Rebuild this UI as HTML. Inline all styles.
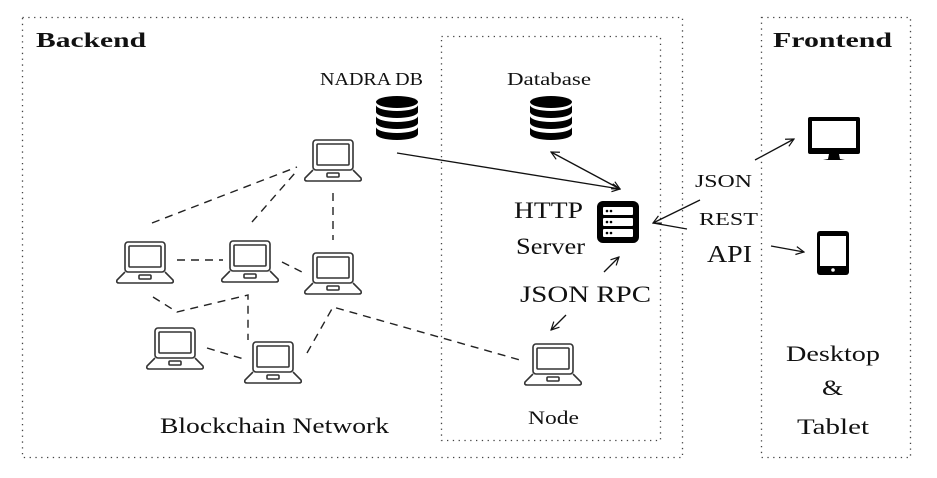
<!DOCTYPE html>
<html><head><meta charset="utf-8"><style>
html,body{margin:0;padding:0;background:#fff;}
svg{display:block;}
text{font-family:"Liberation Serif",serif;fill:#111;}
</style></head><body>
<svg width="937" height="478" viewBox="0 0 937 478" xmlns="http://www.w3.org/2000/svg">
<defs>
<g id="lap" fill="none" stroke="#333" stroke-width="1.6">
<rect x="-20" y="0" width="40" height="30" rx="3"/>
<rect x="-16" y="4" width="32" height="21" rx="1"/>
<path d="M-20,30 L-28,38 Q-29,41 -26,41 L26,41 Q29,41 28,38 L20,30"/>
<rect x="-6" y="33" width="12" height="4" rx="1"/>
</g>
<g id="db">
<ellipse cx="0" cy="5" rx="21" ry="6" fill="#000"/>
<path d="M-21,8 v7 a21,6 0 0 0 42,0 v-7 a21,6 0 0 1 -42,0z" fill="#000"/>
<path d="M-21,19 v7 a21,6 0 0 0 42,0 v-7 a21,6 0 0 1 -42,0z" fill="#000"/>
<path d="M-21,30 v7 a21,6 0 0 0 42,0 v-7 a21,6 0 0 1 -42,0z" fill="#000"/>
</g>
<marker id="ah" markerWidth="10" markerHeight="10" refX="9" refY="5" orient="auto" markerUnits="userSpaceOnUse">
<path d="M1,1 L9,5 L1,9" fill="none" stroke="#111" stroke-width="1.2"/>
</marker>
<marker id="ahs" markerWidth="10" markerHeight="10" refX="1" refY="5" orient="auto" markerUnits="userSpaceOnUse">
<path d="M9,1 L1,5 L9,9" fill="none" stroke="#111" stroke-width="1.2"/>
</marker>
</defs>

<g fill="none" stroke="#444" stroke-width="1.3" stroke-dasharray="1.3,4.5">
<rect x="22.5" y="17.5" width="660" height="440"/>
<rect x="441.5" y="36.5" width="219" height="404"/>
<rect x="761.5" y="17.5" width="149" height="440"/>
</g>

<text x="36" y="47" font-size="21" font-weight="bold" textLength="110" lengthAdjust="spacingAndGlyphs">Backend</text>
<text x="773" y="47" font-size="21" font-weight="bold" textLength="119" lengthAdjust="spacingAndGlyphs">Frontend</text>

<g fill="none" stroke="#222" stroke-width="1.4" stroke-dasharray="8,6">
<path d="M152,223 L297,167"/>
<path d="M252,222 L295,173"/>
<path d="M333,193 L333,240"/>
<path d="M177,260 L223,260"/>
<path d="M282,262 L302,272"/>
<path d="M153,297 L177,312 L248,295 L248,340"/>
<path d="M207,348 L247,360"/>
<path d="M307,353 L333,307 L520,360"/>
</g>

<use href="#lap" x="333" y="140"/>
<use href="#lap" x="145" y="242"/>
<use href="#lap" x="250" y="241"/>
<use href="#lap" x="333" y="253"/>
<use href="#lap" x="175" y="328"/>
<use href="#lap" x="273" y="342"/>
<use href="#lap" x="553" y="344"/>

<use href="#db" x="397" y="97"/>
<use href="#db" x="551" y="97"/>

<text x="320" y="85" font-size="18" textLength="103" lengthAdjust="spacingAndGlyphs">NADRA DB</text>
<text x="507" y="85" font-size="18" textLength="84" lengthAdjust="spacingAndGlyphs">Database</text>

<rect x="597" y="201" width="42" height="42" rx="6" fill="#000"/>
<g fill="#fff">
<rect x="603" y="207" width="30" height="8" rx="1"/>
<rect x="603" y="218" width="30" height="8" rx="1"/>
<rect x="603" y="229" width="30" height="8" rx="1"/>
</g>
<g fill="#000"><circle cx="607" cy="211" r="1.3"/><circle cx="611" cy="211" r="1.3"/><circle cx="607" cy="222" r="1.3"/><circle cx="611" cy="222" r="1.3"/><circle cx="607" cy="233" r="1.3"/><circle cx="611" cy="233" r="1.3"/></g>

<g fill="none" stroke="#111" stroke-width="1.3">
<path d="M397,153 L620,189" marker-end="url(#ah)"/>
<path d="M551,152 L620,189" marker-end="url(#ah)" marker-start="url(#ahs)"/>
<path d="M700,200 L653,223" marker-end="url(#ah)"/>
<path d="M687,229 L653,223"/>
<path d="M755,160 L794,139" marker-end="url(#ah)"/>
<path d="M771,246 L804,252" marker-end="url(#ah)"/>
<path d="M604,272 L619,257" marker-end="url(#ah)"/>
<path d="M566,315 L551,330" marker-end="url(#ah)"/>
</g>

<text x="514" y="218" font-size="23" textLength="69" lengthAdjust="spacingAndGlyphs">HTTP</text>
<text x="516" y="254" font-size="23" textLength="69" lengthAdjust="spacingAndGlyphs">Server</text>
<text x="520" y="302" font-size="23" textLength="131" lengthAdjust="spacingAndGlyphs">JSON RPC</text>
<text x="695" y="187" font-size="18" textLength="57" lengthAdjust="spacingAndGlyphs">JSON</text>
<text x="699" y="225" font-size="18" textLength="59" lengthAdjust="spacingAndGlyphs">REST</text>
<text x="707" y="262" font-size="24" textLength="45" lengthAdjust="spacingAndGlyphs">API</text>
<text x="160" y="433" font-size="22" textLength="229" lengthAdjust="spacingAndGlyphs">Blockchain Network</text>
<text x="528" y="424" font-size="19" textLength="51" lengthAdjust="spacingAndGlyphs">Node</text>
<text x="786" y="361" font-size="22" textLength="94" lengthAdjust="spacingAndGlyphs">Desktop</text>
<text x="822" y="395" font-size="22" textLength="21" lengthAdjust="spacingAndGlyphs">&amp;</text>
<text x="797" y="434" font-size="22" textLength="72" lengthAdjust="spacingAndGlyphs">Tablet</text>

<rect x="808" y="117" width="52" height="37" rx="2" fill="#000"/>
<rect x="812" y="121" width="44" height="27" fill="#fff"/>
<path d="M829,154 L839,154 L840,159 L845,160 L823,160 L828,159Z" fill="#000"/>
<rect x="817" y="231" width="32" height="44" rx="3" fill="#000"/>
<rect x="820" y="236" width="26" height="30" fill="#fff"/>
<circle cx="833" cy="270" r="1.8" fill="#fff"/>
</svg>
</body></html>
